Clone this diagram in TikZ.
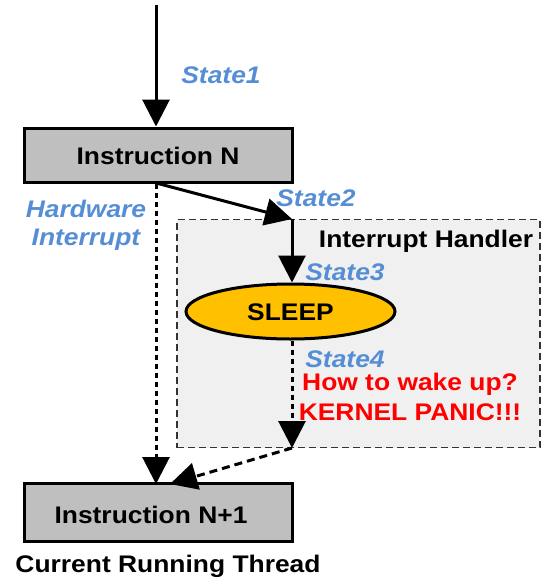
\documentclass[tikz,border=0pt]{standalone}
\usepackage{fontspec}
\setmainfont{Liberation Sans}[FakeStretch=1.1]
\usetikzlibrary{arrows.meta,shapes.geometric}
\definecolor{stateblue}{RGB}{85,142,213}
\definecolor{instrgray}{RGB}{191,191,191}
\definecolor{handlerbg}{RGB}{240,240,240}
\definecolor{sleepfill}{RGB}{255,192,0}
\definecolor{panicred}{RGB}{255,0,0}
\tikzset{
  txt/.style={font=\fontsize{24}{28}\selectfont\bfseries, inner sep=0pt, anchor=base},
  statelbl/.style={txt, font=\fontsize{24}{28}\selectfont\bfseries\itshape, text=stateblue},
  instr/.style={draw=black, line width=3pt, fill=instrgray, minimum width=268pt, inner sep=0pt},
  flow/.style={line width=3pt, -{Triangle[width=27pt,length=27pt]}},
  dotflow/.style={flow, dash pattern=on 5pt off 4pt},
  dashflow/.style={flow, dash pattern=on 8pt off 5pt},
}
\begin{document}
\begin{tikzpicture}[x=1pt,y=-1pt]
  \useasboundingbox (0,0) rectangle (541,582);

  % interrupt handler frame
  \node[draw=black!80, fill=handlerbg, line width=1.4pt, dash pattern=on 7pt off 4pt,
        minimum width=363pt, minimum height=228pt, inner sep=0pt] (handler) at (358.5,333.5) {};

  % instructions
  \node[instr, minimum height=54pt] (instrN) at (158,155) {};
  \node[instr, minimum height=58pt] (instrN1) at (158,512.5) {};
  \node[txt] (instrNtxt) at (158,164) {Instruction N};
  \node[txt] (instrN1txt) at (151,523) {Instruction N+1};

  % sleep state
  \node[ellipse, draw=black, line width=3pt, fill=sleepfill, minimum width=209pt,
        minimum height=55pt, inner sep=0pt] (sleep) at (290.5,311.5) {};
  \node[txt] (sleeptxt) at (290.5,320) {SLEEP};

  % connector anchor points
  \coordinate (start) at (156,5);
  \coordinate (entry) at (292,219);
  \coordinate (exit) at (292,448);
  \coordinate (n1top) at (156,484);
  \coordinate (n1side) at (170,484);

  % flow
  \draw[flow] (start) -- (instrN.north -| start);
  \draw[flow] (instrN.south) -- (entry);
  \draw[flow] (entry) -- (sleep.north -| entry);
  \draw[dotflow] (sleep.south -| exit) -- (exit);
  \draw[dashflow] (exit) -- (n1side);
  \draw[dotflow] (instrN.south -| start) -- (n1top);

  % labels
  \node[statelbl] (s1) at (221,83) {State1};
  \node[statelbl] (s2) at (316,206) {State2};
  \node[statelbl] (s3) at (345,280) {State3};
  \node[statelbl] (s4) at (345,367) {State4};
  \node[statelbl] (hw1) at (86,217) {Hardware};
  \node[statelbl] (hw2) at (86,245) {Interrupt};
  \node[txt] (handlerlbl) at (426,247) {Interrupt Handler};
  \node[txt, text=panicred] (wake) at (410,390) {How to wake up?};
  \node[txt, text=panicred] (panic) at (410,420) {KERNEL PANIC!!!};
  \node[txt] (thread) at (168,572) {Current Running Thread};
\end{tikzpicture}
\end{document}
